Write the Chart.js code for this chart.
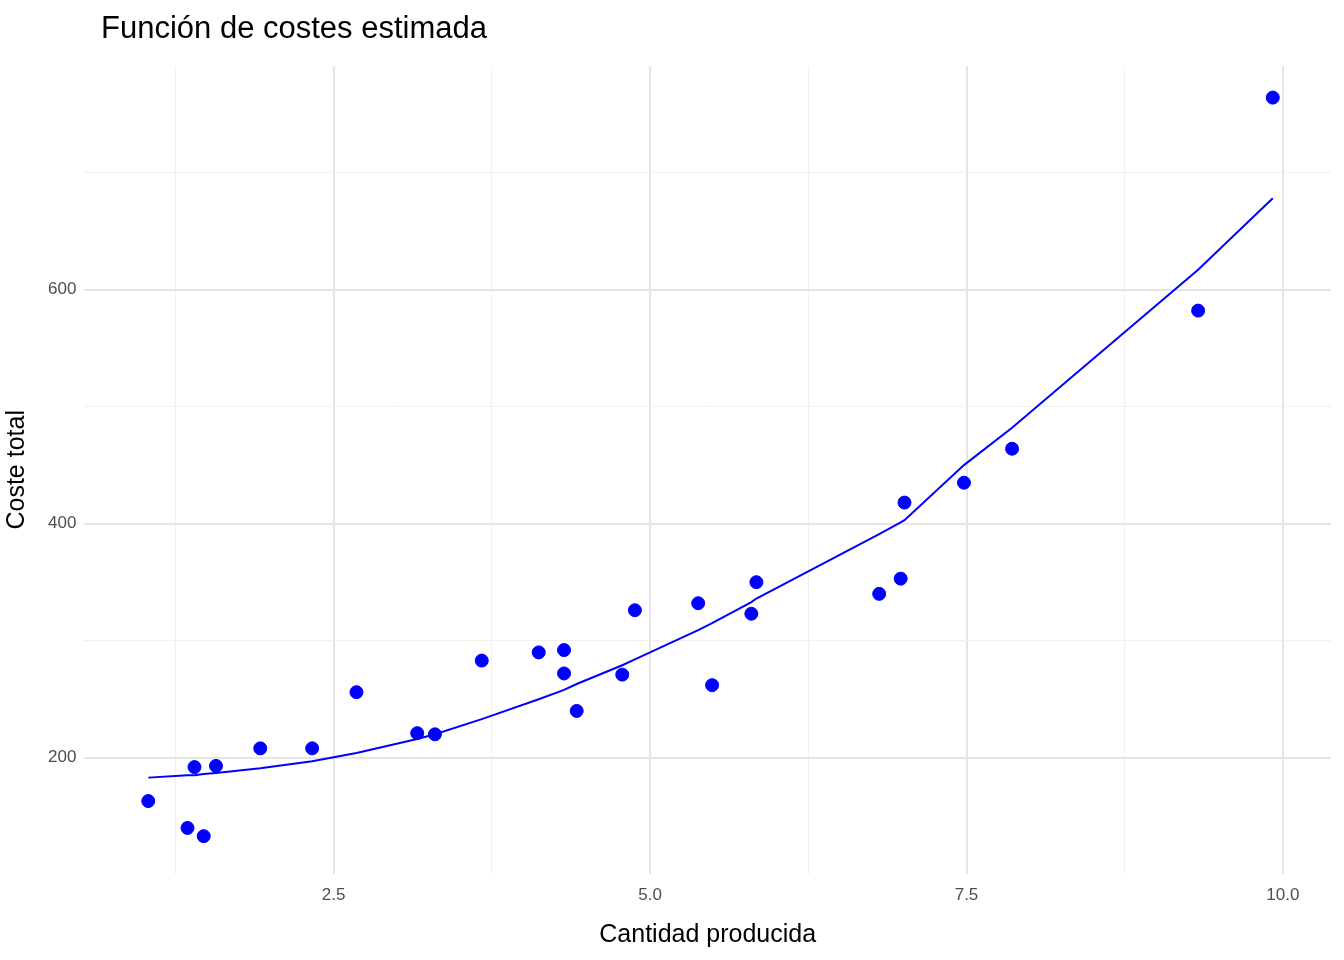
<!DOCTYPE html>
<html lang="es">
<head>
<meta charset="UTF-8">
<title>Función de costes estimada</title>
<script src="https://cdn.jsdelivr.net/npm/chart.js@4.4.1/dist/chart.umd.min.js"></script>
<style>
  html, body { margin: 0; padding: 0; background: #fff; }
  #wrap { position: relative; width: 1344px; height: 960px; }
  #title { position: absolute; left: 101px; top: 10px; font: 31px "Liberation Sans", Arial, sans-serif; color: #000; }
</style>
</head>
<body>
<div id="wrap">
  <div id="title">Función de costes estimada</div>
  <canvas id="chart" width="1344" height="960"></canvas>
</div>
<script>
// cantidad producida y coste observado
const cantidad = [1.035, 1.345, 1.40, 1.473, 1.57, 1.92, 2.33, 2.68, 3.16, 3.30, 3.67, 4.12, 4.32, 4.32, 4.42, 4.78, 4.88, 5.38, 5.49, 5.80, 5.84, 6.81, 6.98, 7.01, 7.48, 7.86, 9.33, 9.92];
const coste = [163, 140, 192, 133, 193, 208, 208, 256, 221, 220, 283, 290, 292, 272, 240, 271, 326, 332, 262, 323, 350, 340, 353, 418, 435, 464, 582, 764];
// valores ajustados (curva estimada)
const ajuste = [183, 185, 185, 186, 187, 191, 197, 204, 216, 220, 233, 250, 258, 258, 263, 279, 284, 309, 315, 333, 336, 391, 401, 403, 450, 482, 617, 678];
const xMajor = [2.5, 5.0, 7.5, 10.0];
const yMajor = [200, 400, 600];

const font = '"Liberation Sans", Arial, sans-serif';
const puntos = cantidad.map((x, i) => ({ x: x, y: coste[i] }));
const curva = cantidad.map((x, i) => ({ x: x, y: ajuste[i] }));

const isMajor = (v, list) => list.some(m => Math.abs(m - v) < 1e-6);

new Chart(document.getElementById('chart'), {
    type: 'scatter',
    data: {
        datasets: [{
            data: curva,
            showLine: true,
            borderColor: '#0000ff',
            borderWidth: 2,
            pointRadius: 0,
            fill: false
        }, {
            data: puntos,
            backgroundColor: '#0000ff',
            borderColor: '#0000ff',
            pointRadius: 6.5
        }]
    },
    options: {
        responsive: false,
        animation: false,
        layout: { padding: { top: 66, right: 13, left: 2, bottom: 10 } },
        plugins: { legend: { display: false }, tooltip: { enabled: false } },
        scales: {
            x: {
                type: 'linear',
                min: 0.53, max: 10.38,
                afterBuildTicks: axis => {
                    axis.ticks = [1.25, 2.5, 3.75, 5.0, 6.25, 7.5, 8.75, 10.0].map(v => ({ value: v }));
                },
                border: { display: false },
                grid: {
                    color: ctx => isMajor(ctx.tick.value, xMajor) ? '#e5e5e5' : '#f0f0f0',
                    lineWidth: ctx => isMajor(ctx.tick.value, xMajor) ? 2 : 1,
                    drawTicks: false
                },
                ticks: {
                    autoSkip: false,
                    maxRotation: 0,
                    padding: 12,
                    color: '#4d4d4d',
                    font: { family: font, size: 17 },
                    callback: v => isMajor(v, xMajor) ? v.toFixed(1) : ''
                },
                title: { display: true, text: 'Cantidad producida', color: '#000', font: { family: font, size: 25 }, padding: { top: 2, bottom: 0 } }
            },
            y: {
                type: 'linear',
                min: 101, max: 791,
                afterBuildTicks: axis => {
                    axis.ticks = [200, 300, 400, 500, 600, 700].map(v => ({ value: v }));
                },
                border: { display: false },
                grid: {
                    color: ctx => isMajor(ctx.tick.value, yMajor) ? '#e5e5e5' : '#f0f0f0',
                    lineWidth: ctx => isMajor(ctx.tick.value, yMajor) ? 2 : 1,
                    drawTicks: false
                },
                ticks: {
                    autoSkip: false,
                    padding: 8,
                    color: '#4d4d4d',
                    font: { family: font, size: 17 },
                    callback: v => isMajor(v, yMajor) ? String(v) : ''
                },
                title: { display: true, text: 'Coste total', color: '#000', font: { family: font, size: 25 }, padding: { top: 0, bottom: 8 } }
            }
        }
    }
});
</script>
</body>
</html>
